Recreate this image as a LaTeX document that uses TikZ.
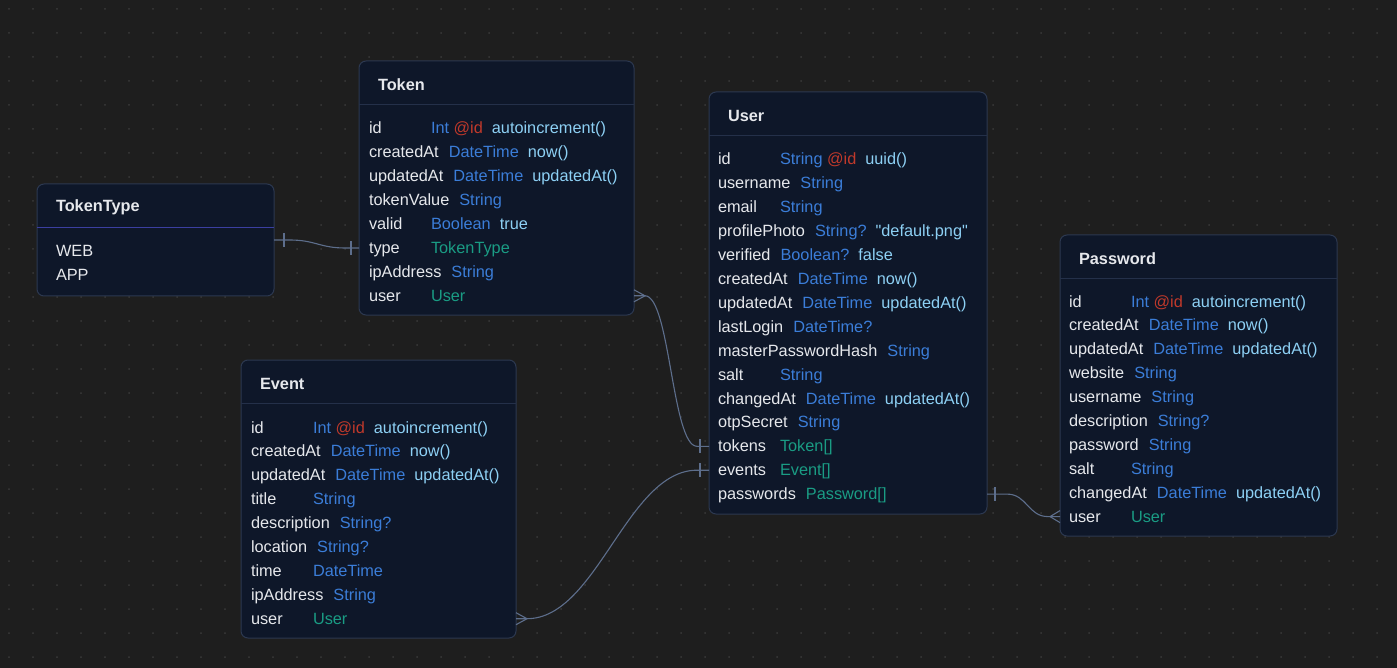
\documentclass[tikz,border=0pt]{standalone}
\usepackage{fontspec}
\newfontfamily\erdfont{Liberation Sans}
\definecolor{canvas}{HTML}{1E1E1E}
\definecolor{dot}{HTML}{3A3A3A}
\definecolor{card}{HTML}{0E1729}
\definecolor{edge}{HTML}{2C3850}
\definecolor{rule}{HTML}{243049}
\definecolor{enumrule}{HTML}{3B3FA0}
\definecolor{fieldname}{HTML}{E6E8EC}
\definecolor{typ}{HTML}{3B7DD8}
\definecolor{pk}{HTML}{C0392B}
\definecolor{attr}{HTML}{8DD0F4}
\definecolor{relt}{HTML}{1A9C84}
\definecolor{wire}{HTML}{5D6E8C}
\usetikzlibrary{positioning}
\tikzstyle{base}=[x=1pt, y=-1pt, inner sep=0pt, outer sep=0pt]
\tikzstyle{tbl}=[draw=edge, fill=card, rounded corners=7pt, anchor=north west, line width=1pt]
\tikzstyle{ttl}=[anchor=west, font=\bfseries, text=fieldname]
\tikzstyle{fld}=[anchor=west, text=fieldname, text height=13pt, text depth=2pt]
\tikzstyle{hrule}=[line width=1pt]
\tikzstyle{link}=[draw=wire, line width=1.1pt]
\newlength\fldtab \setlength\fldtab{62pt}
\newcommand*{\fld}[2]{\setbox0=\hbox{#1}\ifdim\dimexpr\wd0+10pt\relax<\fldtab\hbox to\fldtab{#1\hfil}\else\box0\hspace{10pt}\fi#2}
\newcommand*{\ftype}[1]{\textcolor{typ}{#1}}
\newcommand*{\frel}[1]{\textcolor{relt}{#1}}
\newcommand*{\fid}{\ \textcolor{pk}{@id}}
\newcommand*{\fattr}[1]{\hspace{9pt}\textcolor{attr}{#1}}
\newcommand*{\tblbox}[7][rule]{%
  \node[tbl, minimum width=#5, minimum height=#6] (#2) at (#3,#4) {};
  \node[ttl] (#2ttl) at (#3 + 19, #4 + 23.5) {#7};
  \draw[hrule, draw=#1] (#3, #4 + 43.5) -- (#3 + #5, #4 + 43.5);}
\newcommand*{\onebar}[2]{\draw[link, shift={(#1)}] (#2,-7) -- (#2,7);}
\newcommand*{\manyend}[2]{\draw[link, shift={(#1)}] (0,-6) -- (#2,0) -- (0,6);}

\begin{document}
\begin{tikzpicture}[base]
    \erdfont \fontsize{16.3}{19}\selectfont
        \fill[canvas] (0,0) rectangle (1397,668);
        \foreach \i in {0,...,57} \foreach \j in {0,...,27} \fill[dot] (9 + 24*\i, 9 + 24*\j) circle (1);
        \useasboundingbox (0,0) rectangle (1397,668);

        \tblbox[enumrule]{tokentype}{37}{184}{237}{112}{TokenType}
        \node[fld] (ttweb) at (56,251.5) {WEB};
        \node[fld] (ttapp) at (56,275) {APP};

        \tblbox{token}{359}{61}{275}{254}{Token}
        \foreach \nm/\txt [count=\i from 0] in {
            tokid/{\fld{id}{\ftype{Int}\fid\fattr{autoincrement()}}},
            tokcreated/{\fld{createdAt}{\ftype{DateTime}\fattr{now()}}},
            tokupdated/{\fld{updatedAt}{\ftype{DateTime}\fattr{updatedAt()}}},
            tokvalue/{\fld{tokenValue}{\ftype{String}}},
            tokvalid/{\fld{valid}{\ftype{Boolean}\fattr{true}}},
            toktype/{\fld{type}{\frel{TokenType}}},
            tokip/{\fld{ipAddress}{\ftype{String}}},
            tokuser/{\fld{user}{\frel{User}}}}
            \node[fld] (\nm) at (369, 128.5 + 23.9*\i) {\txt};

        \tblbox{user}{709}{92}{278}{422}{User}
        \foreach \nm/\txt [count=\i from 0] in {
            usrid/{\fld{id}{\ftype{String}\fid\fattr{uuid()}}},
            usrname/{\fld{username}{\ftype{String}}},
            usrmail/{\fld{email}{\ftype{String}}},
            usrphoto/{\fld{profilePhoto}{\ftype{String?}\fattr{"default.png"}}},
            usrverified/{\fld{verified}{\ftype{Boolean?}\fattr{false}}},
            usrcreated/{\fld{createdAt}{\ftype{DateTime}\fattr{now()}}},
            usrupdated/{\fld{updatedAt}{\ftype{DateTime}\fattr{updatedAt()}}},
            usrlogin/{\fld{lastLogin}{\ftype{DateTime?}}},
            usrhash/{\fld{masterPasswordHash}{\ftype{String}}},
            usrsalt/{\fld{salt}{\ftype{String}}},
            usrchanged/{\fld{changedAt}{\ftype{DateTime}\fattr{updatedAt()}}},
            usrotp/{\fld{otpSecret}{\ftype{String}}},
            usrtokens/{\fld{tokens}{\frel{Token[]}}},
            usrevents/{\fld{events}{\frel{Event[]}}},
            usrpw/{\fld{passwords}{\frel{Password[]}}}}
            \node[fld] (\nm) at (718, 159.5 + 23.9*\i) {\txt};

        \tblbox{password}{1060}{235}{277}{301}{Password}
        \foreach \nm/\txt [count=\i from 0] in {
            pwid/{\fld{id}{\ftype{Int}\fid\fattr{autoincrement()}}},
            pwcreated/{\fld{createdAt}{\ftype{DateTime}\fattr{now()}}},
            pwupdated/{\fld{updatedAt}{\ftype{DateTime}\fattr{updatedAt()}}},
            pwsite/{\fld{website}{\ftype{String}}},
            pwname/{\fld{username}{\ftype{String}}},
            pwdesc/{\fld{description}{\ftype{String?}}},
            pwpass/{\fld{password}{\ftype{String}}},
            pwsalt/{\fld{salt}{\ftype{String}}},
            pwchanged/{\fld{changedAt}{\ftype{DateTime}\fattr{updatedAt()}}},
            pwuser/{\fld{user}{\frel{User}}}}
            \node[fld] (\nm) at (1069, 301.5 + 23.9*\i) {\txt};

        \tblbox{event}{241}{360}{275}{278}{Event}
        \foreach \nm/\txt [count=\i from 0] in {
            evid/{\fld{id}{\ftype{Int}\fid\fattr{autoincrement()}}},
            evcreated/{\fld{createdAt}{\ftype{DateTime}\fattr{now()}}},
            evupdated/{\fld{updatedAt}{\ftype{DateTime}\fattr{updatedAt()}}},
            evtitle/{\fld{title}{\ftype{String}}},
            evdesc/{\fld{description}{\ftype{String?}}},
            evloc/{\fld{location}{\ftype{String?}}},
            evtime/{\fld{time}{\ftype{DateTime}}},
            evip/{\fld{ipAddress}{\ftype{String}}},
            evuser/{\fld{user}{\frel{User}}}}
            \node[fld] (\nm) at (251, 427.5 + 23.9*\i) {\txt};

        \draw[link] (tokentype.east) -- ++(16,0) .. controls +(25,0) and +(-25,0) .. ([xshift=-14pt]toktype -| token.west) -- (toktype -| token.west);
        \onebar{tokentype.east}{10}
        \onebar{toktype -| token.west}{-8}

        \draw[link] (tokuser -| token.east) -- ++(11,0) .. controls +(25,0) and +(-25,0) .. ([xshift=-12pt]usrtokens -| user.west) -- (usrtokens -| user.west);
        \manyend{tokuser -| token.east}{11}
        \onebar{usrtokens -| user.west}{-9}

        \draw[link] (evuser -| event.east) -- ++(11,0) .. controls +(70,0) and +(-70,0) .. ([xshift=-12pt]usrevents -| user.west) -- (usrevents -| user.west);
        \manyend{evuser -| event.east}{11}
        \onebar{usrevents -| user.west}{-9}

        \draw[link] (usrpw -| user.east) -- ++(20,0) .. controls +(20,0) and +(-20,0) .. ([xshift=-12pt]pwuser -| password.west) -- (pwuser -| password.west);
        \onebar{usrpw -| user.east}{8}
        \manyend{pwuser -| password.west}{-10}
    \end{tikzpicture}
\end{document}
